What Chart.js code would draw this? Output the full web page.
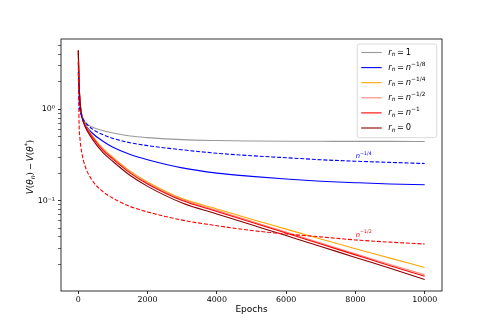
<!DOCTYPE html>
<html>
<head>
<meta charset="utf-8">
<script src="https://cdn.jsdelivr.net/npm/chart.js@4"></script>
<style>
  body { margin: 0; background: #fff; }
  canvas { display: block; }
</style>
</head>
<body>
<canvas id="lossChart" width="491" height="327"></canvas>
<script>
// values (log y)
const epochs = [0, 20, 50, 100, 200, 400, 700, 1000, 1500, 2000, 3000, 4000, 5000, 6000, 7000, 8000, 9000, 10000];

const rOne      = [4.4, 2.0, 1.2, 0.88, 0.72, 0.64, 0.585, 0.55, 0.51, 0.49, 0.465, 0.455, 0.45, 0.447, 0.446, 0.445, 0.445, 0.444];
const rEighth   = [3.3, 1.8, 1.15, 0.86, 0.68, 0.55, 0.45, 0.385, 0.32, 0.28, 0.228, 0.2, 0.184, 0.172, 0.163, 0.157, 0.152, 0.149];
const rQuarter  = [4.3, 2.0, 1.22, 0.87, 0.68, 0.52, 0.375, 0.298, 0.21, 0.16, 0.105, 0.081, 0.0624, 0.0486, 0.0379, 0.0296, 0.0234, 0.0185];
const rHalf     = [4.35, 2.0, 1.21, 0.86, 0.67, 0.51, 0.368, 0.292, 0.205, 0.156, 0.1025, 0.078, 0.0593, 0.0452, 0.0343, 0.0261, 0.0199, 0.0154];
const rInv      = [4.4, 2.0, 1.2, 0.85, 0.66, 0.5, 0.36, 0.285, 0.2, 0.152, 0.1, 0.076, 0.0578, 0.044, 0.0334, 0.0254, 0.0193, 0.0148];
const rZero     = [4.45, 2.0, 1.18, 0.83, 0.64, 0.475, 0.34, 0.268, 0.188, 0.143, 0.094, 0.0714, 0.0543, 0.0413, 0.0314, 0.0238, 0.0181, 0.0136];
const refQuarter = [2.55, 1.2, 0.96, 0.83, 0.72, 0.61, 0.53, 0.48, 0.43, 0.40, 0.36, 0.33, 0.31, 0.295, 0.28, 0.27, 0.262, 0.255];
const refHalf    = [3.34, 0.75, 0.47, 0.335, 0.236, 0.167, 0.126, 0.106, 0.086, 0.075, 0.061, 0.053, 0.047, 0.043, 0.040, 0.037, 0.035, 0.0334];

const seriesNames = ['r_n = 1', 'r_n = n^{-1/8}', 'r_n = n^{-1/4}', 'r_n = n^{-1/2}', 'r_n = n^{-1}', 'r_n = 0'];
const seriesColors = ['#999999', '#0000ff', '#ffa500', '#f4897b', '#ff0000', '#8b0000'];
const seriesValues = [rOne, rEighth, rQuarter, rHalf, rInv, rZero];

const refNames = ['n^{-1/4}', 'n^{-1/2}'];
const refColors = ['#0000ff', '#ff0000'];
const refValues = [refQuarter, refHalf];
const refLabelEpoch = 8270;

const xTicks = [0, 2000, 4000, 6000, 8000, 10000];
const yMajorTicks = [0.1, 1];
const yTickLabels = ['10\u207b\u00b9', '10\u2070'];

const FONT = "'DejaVu Sans', sans-serif";

function toPoints(vals) {
    return epochs.map((e, i) => ({ x: e, y: vals[i] }));
}

// tiny mathtext: letters italic, _x subscript, ^{..} superscript
function parseMath(s) {
    const segs = [];
    let i = 0;
    while (i < s.length) {
        let c = s[i];
        if (c === '_' || c === '^') {
            let grp;
            if (s[i + 1] === '{') {
                const end = s.indexOf('}', i);
                grp = s.slice(i + 2, end);
                i = end + 1;
            } else {
                grp = s[i + 1];
                i += 2;
            }
            for (const g of grp) segs.push({ t: g === '-' ? '\u2212' : g, shift: c === '_' ? 'sub' : 'sup' });
            continue;
        }
        if (c === ' ') { i++; continue; }
        if (c === '=' || c === '\u2212') segs.push({ t: '\u2009' + c + '\u2009', shift: null });
        else segs.push({ t: c === '-' ? '\u2212' : c, shift: null });
        i++;
    }
    return segs;
}

function segFont(seg, size) {
    const italic = /[A-Za-z\u03b8]/.test(seg.t);
    const sz = seg.shift ? size * 0.7 : size;
    return (italic ? 'italic ' : '') + sz + 'px ' + FONT;
}

function mathWidth(ctx, s, size) {
    let w = 0;
    for (const seg of parseMath(s)) {
        ctx.font = segFont(seg, size);
        w += ctx.measureText(seg.t).width;
    }
    return w;
}

function drawMath(ctx, s, x, y, size, color) {
    ctx.fillStyle = color;
    ctx.textBaseline = 'middle';
    ctx.textAlign = 'left';
    for (const seg of parseMath(s)) {
        ctx.font = segFont(seg, size);
        let dy = 0;
        if (seg.shift === 'sub') dy = size * 0.25;
        if (seg.shift === 'sup') dy = -size * 0.4;
        ctx.fillText(seg.t, x, y + dy);
        x += ctx.measureText(seg.t).width;
    }
    return x;
}

const decorPlugin = {
    id: 'decor',
    afterDraw(chart) {
        const { ctx, chartArea } = chart;
        const xs = chart.scales.x, ys = chart.scales.y;
        ctx.save();

        // frame
        ctx.strokeStyle = '#000';
        ctx.lineWidth = 0.8;
        ctx.strokeRect(chartArea.left, chartArea.top, chartArea.right - chartArea.left, chartArea.bottom - chartArea.top);

        // labels on the reference curves
        refNames.forEach((name, i) => {
            const idx = epochs.indexOf(8000);
            const px = xs.getPixelForValue(refLabelEpoch);
            const py = ys.getPixelForValue(refValues[i][idx]) - 5;
            drawMath(ctx, name, px - 9, py, 6.8, refColors[i]);
        });

        // axis titles
        ctx.font = '9px ' + FONT;
        ctx.fillStyle = '#000';
        ctx.textAlign = 'center';
        ctx.textBaseline = 'middle';
        ctx.fillText('Epochs', (chartArea.left + chartArea.right) / 2, chartArea.bottom + 18.5);

        const yt = 'V(\u03b8_n) \u2212 V(\u03b8^*)';
        ctx.save();
        ctx.translate(chartArea.left - 30, (chartArea.top + chartArea.bottom) / 2 + 2);
        ctx.rotate(-Math.PI / 2);
        drawMath(ctx, yt, -mathWidth(ctx, yt, 8.8) / 2, 0, 8.8, '#000');
        ctx.restore();

        // legend
        const w = 79.5, rowH = 15.1;
        const x0 = chartArea.right - 5.3 - w, y0 = chartArea.top + 5;
        const h = rowH * seriesNames.length + 3;
        ctx.beginPath();
        ctx.roundRect(x0, y0, w, h, 2);
        ctx.fillStyle = 'rgba(255,255,255,0.8)';
        ctx.fill();
        ctx.strokeStyle = '#d0d0d0';
        ctx.lineWidth = 0.8;
        ctx.stroke();
        seriesNames.forEach((name, i) => {
            const y = y0 + 8.5 + i * rowH;
            ctx.strokeStyle = seriesColors[i];
            ctx.lineWidth = 1.1;
            ctx.beginPath();
            ctx.moveTo(x0 + 4, y);
            ctx.lineTo(x0 + 24.5, y);
            ctx.stroke();
            drawMath(ctx, name, x0 + 31, y, 8.4, '#000');
        });
        ctx.restore();
    }
};

const datasets = [];
seriesValues.forEach((vals, i) => {
    datasets.push({
        label: seriesNames[i],
        data: toPoints(vals),
        borderColor: seriesColors[i],
        borderWidth: 1.1
    });
});
refValues.forEach((vals, i) => {
    datasets.push({
        label: refNames[i],
        data: toPoints(vals),
        borderColor: refColors[i],
        borderWidth: 1.1,
        borderDash: [4, 1.8]
    });
});
datasets.forEach((d, i) => { d.order = datasets.length - i; });

window.lossChart = new Chart(document.getElementById('lossChart'), {
    type: 'line',
    data: { datasets },
    options: {
        responsive: false,
        animation: false,
        events: [],
        layout: { padding: { left: 0, right: 49, top: 39, bottom: 0 } },
        elements: {
            point: { radius: 0 },
            line: { cubicInterpolationMode: 'monotone', fill: false }
        },
        plugins: { legend: { display: false }, tooltip: { enabled: false } },
        scales: {
            x: {
                type: 'linear',
                min: -500,
                max: 10500,
                afterBuildTicks: s => { s.ticks = xTicks.map(v => ({ value: v })); },
                afterFit: s => { s.height = 36; },
                border: { display: false },
                grid: { drawOnChartArea: false, tickLength: 3, tickColor: '#000', tickWidth: 0.8 },
                ticks: {
                    autoSkip: false,
                    maxRotation: 0,
                    padding: 1,
                    color: '#000',
                    font: { family: FONT, size: 7.9 },
                    callback: v => String(v)
                }
            },
            y: {
                type: 'logarithmic',
                min: 0.0102,
                max: 5.9,
                afterBuildTicks: s => {
                    const t = [];
                    for (let e = -2; e <= 0; e++) {
                        for (let k = 1; k <= 9; k++) {
                            const v = +(k * Math.pow(10, e)).toPrecision(3);
                            if (v > 0.0102 && v < 5.9) t.push({ value: v, major: k === 1 });
                        }
                    }
                    s.ticks = t;
                },
                afterFit: s => { s.width = 61; },
                border: { display: false },
                grid: {
                    drawOnChartArea: false,
                    tickLength: 3,
                    tickColor: '#000',
                    tickWidth: c => (c.tick && c.tick.major ? 0.8 : 0.6)
                },
                ticks: {
                    autoSkip: false,
                    padding: 3,
                    color: '#000',
                    font: { family: FONT, size: 7.9 },
                    callback: v => {
                        const i = yMajorTicks.indexOf(v);
                        return i >= 0 ? yTickLabels[i] : '';
                    }
                }
            }
        }
    },
    plugins: [decorPlugin]
});
</script>
</body>
</html>
